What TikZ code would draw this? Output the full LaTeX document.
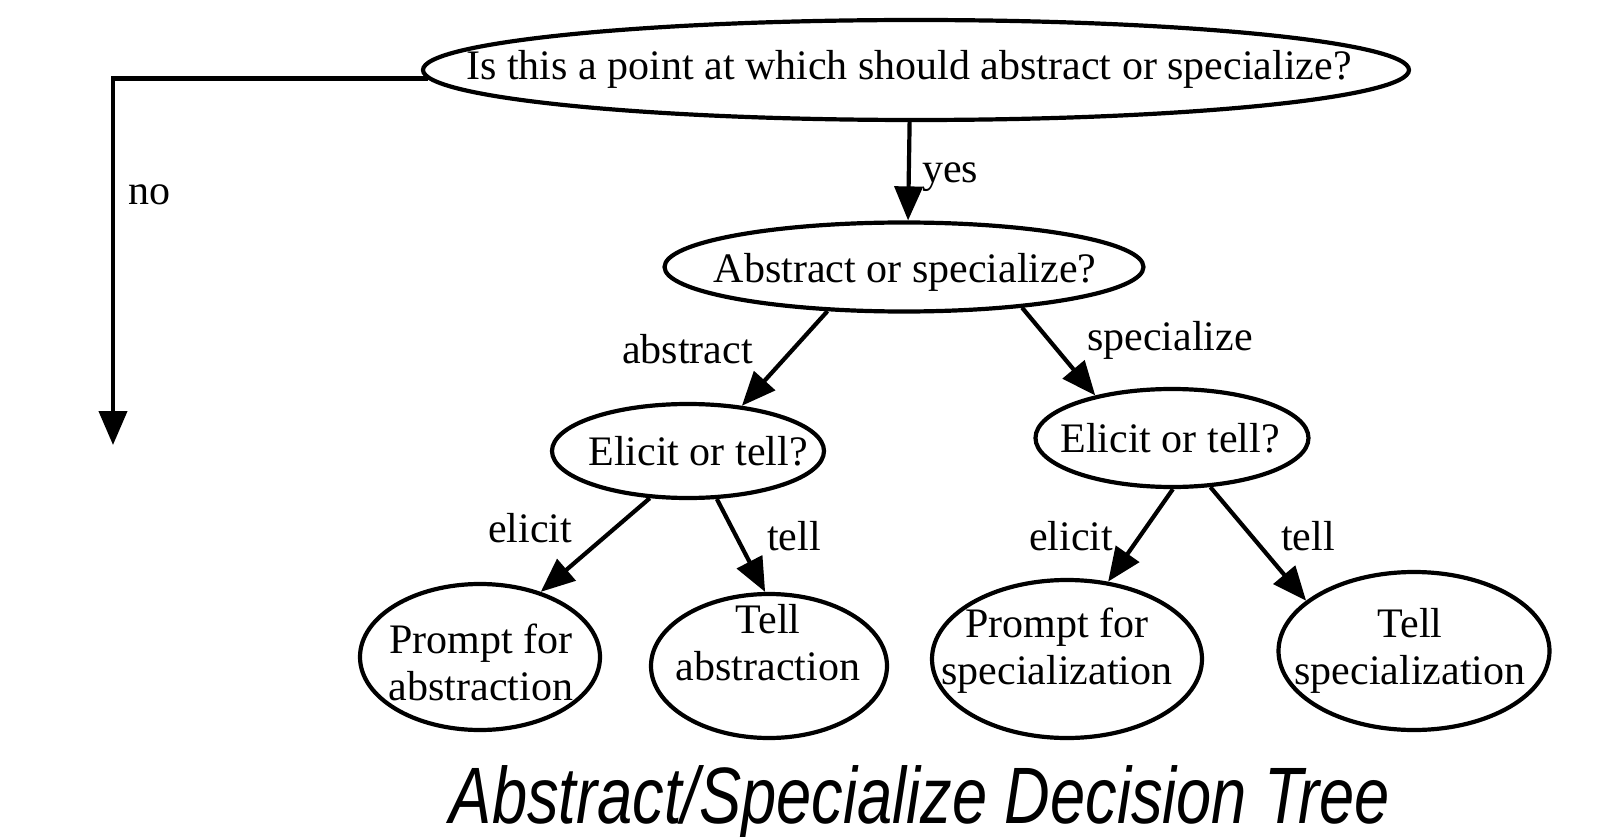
\documentclass[tikz,border=0pt]{standalone}
\usepackage{fontspec}
\usepackage{graphicx}
\setmainfont{Liberation Serif}
\newfontfamily\titlefont{Liberation Sans}
\usetikzlibrary{shapes.geometric,arrows.meta}
\begin{document}
\begin{tikzpicture}[x=1pt,y=-1pt,
  ell/.style={draw, ellipse, line width=4.2pt, inner sep=0pt},
  txt/.style={font=\fontsize{42}{47}\selectfont, align=center, anchor=base, inner sep=0pt},
  lbl/.style={font=\fontsize{42}{47}\selectfont, anchor=base west, inner sep=0pt},
  arr/.style={line width=4.2pt, -{Triangle[length=34pt,width=28pt]}},
]
\useasboundingbox (0,0) rectangle (1615,837);
% ellipses
\node[ell, minimum width=986pt, minimum height=100pt] (q1) at (916,70) {};
\node[ell, minimum width=479pt, minimum height=89pt] (ab) at (904,267) {};
\node[ell, minimum width=272pt, minimum height=94pt] (eL) at (688,451) {};
\node[ell, minimum width=273pt, minimum height=98pt] (eR) at (1172,438) {};
\node[ell, minimum width=240pt, minimum height=146pt] (pA) at (480,657) {};
\node[ell, minimum width=236pt, minimum height=144pt] (tA) at (769,666) {};
\node[ell, minimum width=270pt, minimum height=158pt] (pS) at (1067,659) {};
\node[ell, minimum width=271pt, minimum height=158pt] (tS) at (1414,651) {};
% texts (base anchor = baseline of the last line)
\node[txt] (q1t) at (909,80) {Is this a point at which should abstract or specialize?};
\node[txt] (abt) at (905,283) {Abstract or specialize?};
\node[txt] (eLt) at (698,465) {Elicit or tell?};
\node[txt] (eRt) at (1170,452) {Elicit or tell?};
\node[txt] (pAt) at (481,700) {Prompt for\\abstraction};
\node[txt] (tAt) at (768,680) {Tell\\abstraction};
\node[txt] (pSt) at (1057,684) {Prompt for\\specialization};
\node[txt] (tSt) at (1410,684) {Tell\\specialization};
% connectors
\coordinate (noend) at (113,445);
\draw[arr] (q1.181) -| (noend);
\draw[arr] (q1.263) -- (ab.85);
\draw[arr] (ab.210) -- (eL.40);
\draw[arr] (ab.341) -- (eR.151);
\draw[arr] (eL.231) -- (pA.47);
\draw[arr] (eL.301) -- (tA.93);
\draw[arr] (eR.271) -- (pS.62);
\draw[arr] (eR.308) -- (tS.155);
% edge labels
\node[lbl] (lno) at (128,205) {no};
\node[lbl] (lyes) at (922,183) {yes};
\node[lbl] (labs) at (622,363) {abstract};
\node[lbl] (lspec) at (1087,350) {specialize};
\node[lbl] (lel1) at (488,542) {elicit};
\node[lbl] (lte1) at (767,550) {tell};
\node[lbl] (lel2) at (1029,550) {elicit};
\node[lbl] (lte2) at (1281,550) {tell};
% title
\node[font=\titlefont\itshape\fontsize{80}{90}\selectfont, anchor=base, inner sep=0pt] (title) at (920,823) {\scalebox{0.79}[1]{Abstract/Specialize Decision Tree}};
\end{tikzpicture}
\end{document}
